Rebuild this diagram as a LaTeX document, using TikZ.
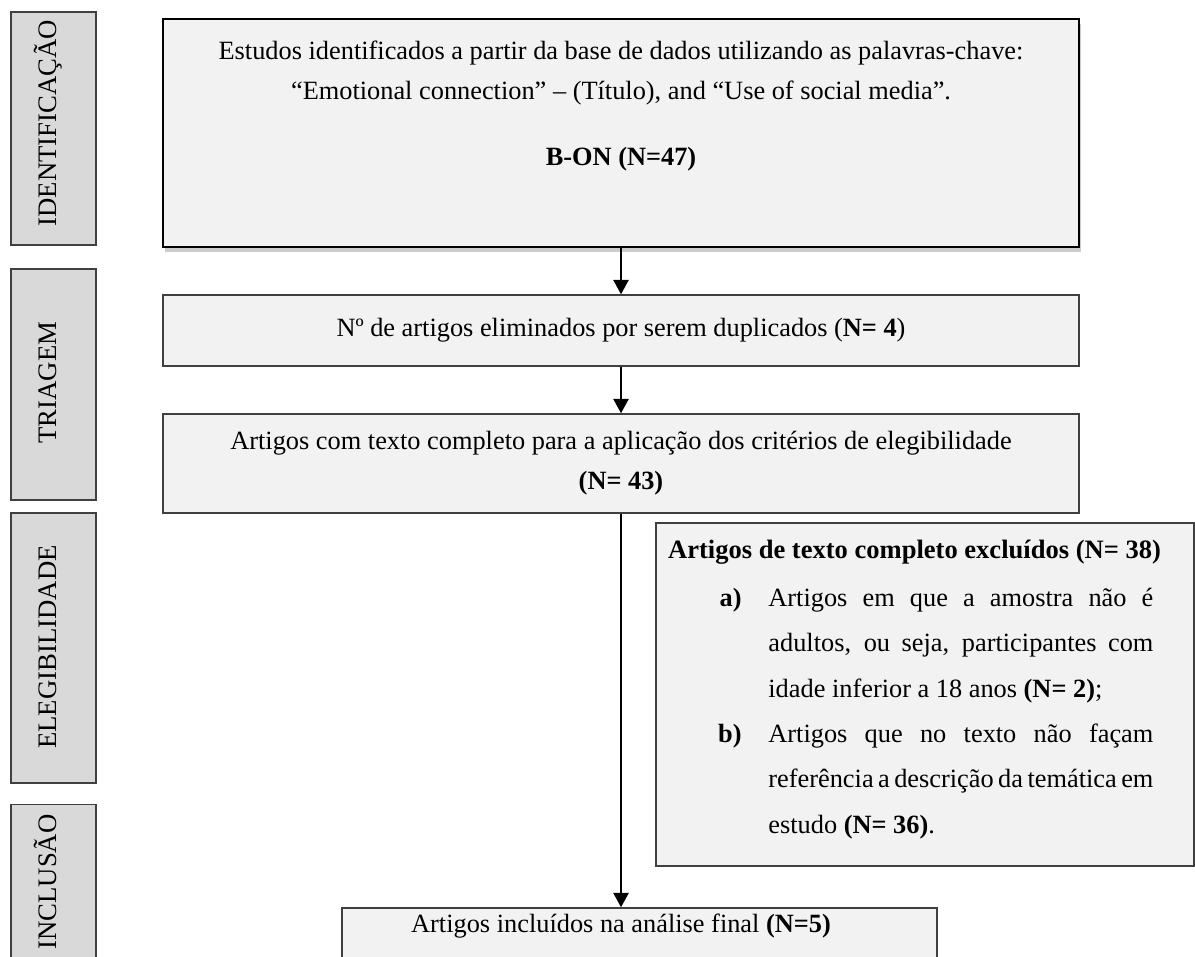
\documentclass[tikz,border=0pt]{standalone}
\usepackage{fontspec}
\setmainfont{Liberation Serif}
\usetikzlibrary{arrows.meta,positioning,calc,shadows}
\hyphenpenalty=10000
\exhyphenpenalty=10000

\definecolor{boxfill}{HTML}{F2F2F2}
\definecolor{phasefill}{HTML}{D9D9D9}
\definecolor{boxline}{HTML}{404040}

\begin{document}
\begin{tikzpicture}[x=0.52pt,y=-0.52pt,
    stage/.style={draw=boxline, line width=0.8pt, fill=boxfill, inner sep=0pt, minimum width=476.3pt},
    phase/.style={draw=boxline, line width=0.8pt, fill=phasefill, inner sep=0pt, minimum width=44.2pt},
    phaselabel/.style={rotate=90, anchor=base, inner sep=0pt, font=\fontsize{13.9}{16}\selectfont},
    txt/.style={inner sep=0pt, align=center, font=\fontsize{13.7}{20.8}\selectfont},
    item/.style={inner sep=0pt, anchor=base west, text width=200.2pt, align=justify, font=\fontsize{13.7}{23.7}\selectfont},
    itemlabel/.style={inner sep=0pt, anchor=base east, font=\fontsize{13.7}{16}\selectfont\bfseries},
    flow/.style={-{Triangle[width=8pt,length=7.5pt]}, line width=0.8pt, black}]
    \useasboundingbox (0,0) rectangle (1195,956);
    \clip (0,0) rectangle (1195,956);

    % phases on the left
    \node[phase, minimum height=121.2pt] (identph) at (53.5,128.5) {};
    \node[phase, minimum height=120.1pt] (triph) at (53.5,384.5) {};
    \node[phase, minimum height=140.4pt] (eligph) at (53.5,648) {};
    \node[phase, minimum height=101.4pt] (inclph) at (53.5,902) {};
    \node[phaselabel] (identlbl) at (56,123) {IDENTIFICAÇÃO};
    \node[phaselabel] (trilbl) at (56,382.5) {TRIAGEM};
    \node[phaselabel] (eliglbl) at (56,647) {ELEGIBILIDADE};
    \node[phaselabel] (incllbl) at (56,882) {INCLUSÃO};

    % flow boxes
    \node[stage, draw=black, line width=1.3pt, minimum height=118.6pt,
          drop shadow={shadow xshift=1pt, shadow yshift=-2.5pt, opacity=0.4}] (ident) at (621,133) {};
    \node[txt, anchor=base] (identtxt) at (621,165) {Estudos identificados a partir da base de dados utilizando as palavras-chave:\\
        “Emotional connection” – (Título), and “Use of social media”.\\[13.5pt]
        \textbf{B-ON (N=47)}};
    \node[stage, txt, minimum height=36.9pt] (screen) at (621,330.5)
        {Nº de artigos eliminados por serem duplicados (\textbf{N= 4})};
    \node[stage, txt, minimum height=51.5pt] (elig) at (621,463.5)
        {Artigos com texto completo para a aplicação dos critérios de elegibilidade\\ \textbf{(N= 43)}};

    % excluded articles
    \node[stage, minimum width=279.8pt, minimum height=178.4pt] (excl) at (925,694.5) {};
    \node[txt, anchor=base, font=\fontsize{13.8}{16}\selectfont\bfseries] (excltitle) at (914.5,558)
        {Artigos de texto completo excluídos (N= 38)};
    \node[itemlabel] (lbla) at (742,606) {a)};
    \node[item] (itema) at (768,606) {Artigos em que a amostra não é\linebreak
        adultos, ou seja, participantes com\linebreak idade inferior a 18 anos \textbf{(N= 2)};};
    \node[itemlabel] (lblb) at (742,742) {b)};
    \node[item] (itemb) at (768,742) {Artigos que no texto não façam\linebreak
        referência a descrição da temática em\linebreak estudo \textbf{(N= 36)}.};

    % final
    \node[stage, minimum width=309.4pt, minimum height=41.6pt] (final) at (639.5,948) {};
    \node[txt, anchor=base] (finaltxt) at (621,932) {Artigos incluídos na análise final \textbf{(N=5)}};

    \draw[flow] (ident.south) -- (screen.north);
    \draw[flow] (screen.south) -- (elig.north);
    \draw[flow] (elig.south) -- (elig.south |- final.north);
\end{tikzpicture}
\end{document}
